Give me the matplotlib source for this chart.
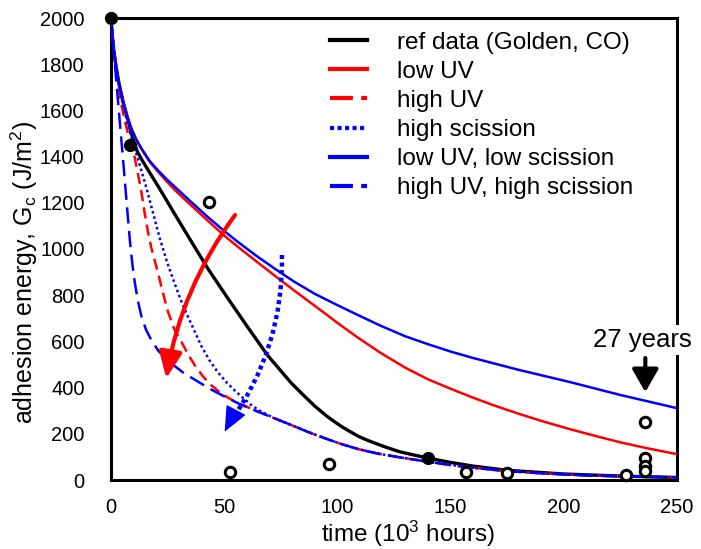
import matplotlib
matplotlib.use("Agg")
import matplotlib.pyplot as plt
from matplotlib.lines import Line2D

plt.rcParams['font.family'] = ['Liberation Sans', 'DejaVu Sans']
plt.rcParams['mathtext.default'] = 'regular'

# ---- data ----
ref_x = [0, 0.5, 1.2, 2.3, 3.5, 5.3, 7, 8.5, 10, 11.7, 13.4, 17, 20.8, 28.1, 35.5, 42.8, 51.7, 60.5, 69.3,
         79.6, 84.5, 90, 95.5, 101.7, 105.5, 109.1, 113, 117, 122, 127.6, 133, 140, 150, 160, 175, 200, 225, 250]
ref_y = [2000, 1930, 1860, 1785, 1718, 1638, 1577, 1520, 1465, 1420, 1390, 1332, 1272, 1152, 1032, 915, 785, 660, 538,
         420, 372, 320, 275, 232, 210, 190, 173, 158, 140, 122, 110, 95, 76, 60, 42, 26, 17, 11]

lowuv_x = [0, 0.5, 1.2, 2.3, 3.5, 5.3, 7, 9, 11, 13.4, 17, 20.8, 24.5, 28.1, 35.5, 42.8, 50, 57, 64.9, 72,
           79.6, 87, 94.4, 101, 109.1, 118.8, 130, 140, 150, 160, 170, 180, 190, 202.7, 215, 225, 237, 250]
lowuv_y = [2000, 1930, 1860, 1785, 1718, 1638, 1578, 1521, 1476, 1433, 1378, 1334, 1294, 1256, 1188, 1122, 1058, 1002, 941, 887,
           830, 776, 722, 673, 616, 552, 486, 436, 395, 356, 320, 287, 256, 220, 188, 163, 137, 112]

highuv_x = [0, 1.5, 3, 4.5, 6, 7.5, 9, 10.5, 12, 13.4, 14.8, 16.3, 17.8, 19.3, 20.8, 23, 25.2, 28, 31.1, 34, 37,
            40.5, 44.3, 49, 54.6, 60, 64.9, 72, 79.6, 87, 94.4, 101, 109.1, 118, 127.6, 140, 150, 160, 172, 190, 210, 230, 250]
highuv_y = [2000, 1840, 1720, 1630, 1560, 1500, 1450, 1395, 1320, 1248, 1160, 1075, 1005, 950, 895, 808, 728, 652, 598, 545, 497,
            450, 410, 372, 340, 317, 296, 268, 238, 208, 181, 158, 134, 114, 98, 79, 65, 53, 41, 29, 20, 15, 11]

highsc_x = [0, 1.5, 3, 4.5, 6, 7.5, 9, 10.5, 12.5, 14.9, 16.8, 18.6, 21.5, 24.8, 28.1, 31, 34, 37, 39.9, 43.5,
            47.3, 51, 54.6, 58, 62, 66, 72, 79.6, 87, 94.4, 101, 109.1, 118, 127.6, 140, 150, 160, 172, 190, 210, 230, 250]
highsc_y = [2000, 1850, 1740, 1660, 1595, 1537, 1485, 1436, 1370, 1290, 1222, 1155, 1048, 942, 851, 775, 707, 642, 580, 518,
            465, 423, 388, 358, 324, 298, 268, 238, 208, 181, 158, 134, 114, 98, 79, 65, 53, 41, 29, 20, 15, 11]

lowlow_x = [0, 0.5, 1.2, 2.3, 3.5, 5.3, 7, 9, 11, 13.4, 17, 20.8, 24.5, 28.1, 35.5, 42.8, 50, 56, 64, 72.3,
            81, 90, 100, 109.1, 118.8, 130, 140, 150, 160, 180, 202.7, 225, 250]
lowlow_y = [2000, 1930, 1860, 1785, 1718, 1640, 1579, 1522, 1478, 1436, 1382, 1340, 1303, 1270, 1203, 1138, 1078, 1031, 972, 915,
            858, 806, 757, 714, 669, 622, 588, 556, 528, 477, 424, 368, 311]

highhigh_x = [0, 1.2, 2.3, 3.8, 5.3, 6.5, 7.6, 8.5, 9.5, 10.5, 12, 13.4, 15.5, 17.8, 21, 26.6, 32, 38.4, 44, 50.2,
              57, 64.9, 72, 79.6, 87, 94.4, 101, 109.1, 118, 127.6, 140, 150, 160, 172, 190, 210, 230, 250]
highhigh_y = [2000, 1860, 1730, 1560, 1390, 1250, 1120, 1020, 930, 855, 770, 710, 650, 606, 558, 505, 464, 426, 393, 361,
              328, 296, 268, 238, 208, 181, 158, 134, 114, 98, 79, 65, 53, 41, 29, 20, 15, 11]

filled_x = [0, 8.4, 140]
filled_y = [2000, 1450, 97]

open_x = [43.3, 52.6, 96.3, 157, 175, 227.5, 236, 236, 236, 236]
open_y = [1205, 35, 68, 36, 32, 22, 250, 95, 62, 38]

labels = ["ref data (Golden, CO)", "low UV", "high UV", "high scission",
          "low UV, low scission", "high UV, high scission"]

xticks = [0, 50, 100, 150, 200, 250]
yticks = list(range(0, 2001, 200))

# ---- figure ----
fig = plt.figure(figsize=(7.01, 5.49), dpi=100)
ax = fig.add_axes([111/701, 1-480/549, (677-111)/701, (480-18)/549])

lw_c = 1.8
ax.plot(ref_x, ref_y, color='black', lw=2.4, zorder=2)
ax.plot(lowuv_x, lowuv_y, color='#FF0000', lw=lw_c, zorder=3)
ax.plot(highuv_x, highuv_y, color='#FF0000', lw=lw_c, ls=(0, (4.5, 2.5)), zorder=3.1)
ax.plot(highsc_x, highsc_y, color='#0000FF', lw=lw_c, ls=(0, (1, 1.2)), zorder=3.2)
ax.plot(lowlow_x, lowlow_y, color='#0000FF', lw=lw_c, zorder=3.3)
ax.plot(highhigh_x, highhigh_y, color='#0000FF', lw=lw_c, ls=(0, (6.5, 3)), zorder=3.4)

ax.plot(filled_x, filled_y, 'o', color='black', ms=8.5, zorder=6, clip_on=False)
ax.plot(open_x, open_y, 'o', mfc='white', mec='black', mew=2.2, ms=7.5, zorder=6, clip_on=False)

# red curved arrow
ax.annotate('', xy=(24.4, 440), xytext=(54.8, 1147),
            arrowprops=dict(arrowstyle='-|>,head_width=0.35,head_length=0.8',
                            connectionstyle='arc3,rad=0.12', color='#FF0000',
                            lw=3, mutation_scale=20, shrinkA=0, shrinkB=0), zorder=7)
# blue dotted curved arrow: dotted shaft + solid head
ax.annotate('', xy=(51.5, 235), xytext=(75.5, 974),
            arrowprops=dict(arrowstyle='-', connectionstyle='arc3,rad=-0.17', color='#0000FF',
                            lw=3.2, ls=(0, (0.9, 0.8)), capstyle='butt',
                            shrinkA=0, shrinkB=0), zorder=7)
ax.annotate('', xy=(50.2, 209), xytext=(53.9, 278),
            arrowprops=dict(arrowstyle='-|>,head_width=0.35,head_length=0.8',
                            color='#0000FF', lw=1, mutation_scale=20,
                            shrinkA=0, shrinkB=0), zorder=7)

ax.text(234.5, 606, '27 years', fontsize=18.5, ha='center', va='center',
        bbox=dict(facecolor='white', edgecolor='none', pad=2), zorder=8, clip_on=False)
ax.annotate('', xy=(236, 380), xytext=(236, 528),
            arrowprops=dict(arrowstyle='-|>,head_width=0.4,head_length=0.7',
                            color='black', lw=3, mutation_scale=20,
                            shrinkA=0, shrinkB=0), zorder=8)

ax.set_xlim(0, 250)
ax.set_ylim(0, 2000)
ax.set_xticks(xticks)
ax.set_yticks(yticks)
ax.tick_params(length=0, labelsize=14.5)
ax.tick_params(axis='x', pad=13)
ax.tick_params(axis='y', pad=19)
for s in ax.spines.values():
    s.set_linewidth(2.2)
    s.set_color('black')

ax.set_xlabel('time (10$^3$ hours)', fontsize=17.5)
ax.set_ylabel('adhesion energy, G$_c$ (J/m$^2$)', fontsize=18)
ax.xaxis.set_label_coords(0.525, -0.084)
ax.yaxis.set_label_coords(-0.125, 0.45)

handles = [
    Line2D([], [], color='black', lw=3),
    Line2D([], [], color='#FF0000', lw=3),
    Line2D([], [], color='#FF0000', lw=3, ls=(0, (5.5, 2))),
    Line2D([], [], color='#0000FF', lw=3, ls=(0, (1, 0.8))),
    Line2D([], [], color='#0000FF', lw=3),
    Line2D([], [], color='#0000FF', lw=3, ls=(0, (5.5, 2))),
]
ax.legend(handles, labels, loc='upper left', bbox_to_anchor=(0.387, 0.97),
          frameon=False, fontsize=17.5, borderpad=0, borderaxespad=0,
          handlelength=1.52, handletextpad=1.22, labelspacing=0.29)

fig.savefig('out.png', dpi=100)
